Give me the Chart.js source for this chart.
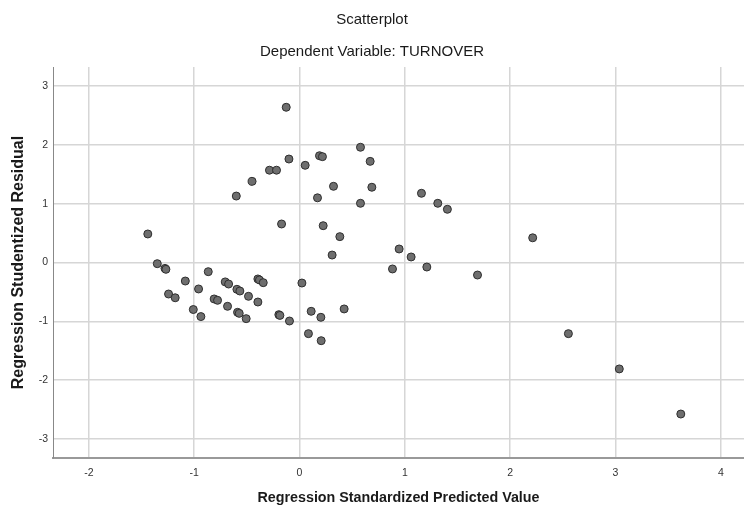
<!DOCTYPE html>
<html>
<head>
<meta charset="utf-8">
<script src="https://cdn.jsdelivr.net/npm/chart.js@4.4.1/dist/chart.umd.min.js"></script>
<style>
  html, body { margin: 0; padding: 0; background: #fff; }
  #wrap { width: 744px; height: 511px; }
</style>
</head>
<body>
<div id="wrap"><canvas id="residChart" width="744" height="511"></canvas></div>
<script>
// Regression Standardized Predicted Value (x) vs Studentized Residual (y)
const predicted = [
    -0.126, -0.10, -0.285, -0.218, -0.45, -0.60, -0.17, -1.44, -1.35, -1.277,
    -1.268, -1.243, -1.18, -1.084, -0.958, -1.008, -0.936, -0.866, -0.81, -0.778,
    -0.705, -0.673, -0.683, -0.594, -0.566, -0.588, -0.572, -0.506, -0.484, -0.395,
    -0.38, -0.344, -0.395, -0.196, -0.186, -0.095, 0.023, 0.111, 0.203, 0.085,
    0.206, 0.424, 0.383, 0.31, 0.946, 1.06, 1.209, 0.883, 1.69, 0.054,
    0.19, 0.218, 0.579, 0.671, 0.323, 0.687, 0.171, 0.579, 1.158, 1.313,
    1.404, 0.225, 2.214, 2.553, 3.036, 3.62
];
const residual = [
    2.64, 1.76, 1.57, 1.57, 1.38, 1.13, 0.655, 0.485, -0.02, -0.10,
    -0.116, -0.536, -0.60, -0.315, -0.45, -0.80, -0.92, -0.156, -0.62, -0.643,
    -0.33, -0.366, -0.745, -0.456, -0.485, -0.847, -0.865, -0.955, -0.575, -0.28,
    -0.297, -0.343, -0.672, -0.887, -0.90, -0.995, -0.349, -0.83, -0.932, -1.21,
    -1.33, -0.79, 0.44, 0.127, 0.23, 0.094, -0.077, -0.11, -0.213, 1.653,
    1.816, 1.80, 1.96, 1.72, 1.296, 1.28, 1.10, 1.007, 1.177, 1.007,
    0.905, 0.626, 0.42, -1.21, -1.81, -2.577
];

const points = predicted.map((x, i) => ({ x: x, y: residual[i] }));

const fontFamily = '"Liberation Sans", Arial, sans-serif';

new Chart(document.getElementById('residChart'), {
    type: 'scatter',
    data: {
        datasets: [{
            label: 'Residuals',
            data: points,
            backgroundColor: '#6e6e6e',
            borderColor: '#2e2e2e',
            borderWidth: 1,
            pointRadius: 4,
            pointHoverRadius: 4
        }]
    },
    options: {
        responsive: false,
        animation: false,
        layout: { padding: 0, autoPadding: false },
        plugins: {
            legend: { display: false },
            tooltip: { enabled: false },
            title: {
                display: true,
                text: 'Scatterplot',
                color: '#1a1a1a',
                font: { family: fontFamily, size: 15, weight: 'normal' },
                padding: { top: 11, bottom: 7 }
            },
            subtitle: {
                display: true,
                text: 'Dependent Variable: TURNOVER',
                color: '#1a1a1a',
                font: { family: fontFamily, size: 15, weight: 'normal' },
                padding: { top: 7, bottom: 6 }
            }
        },
        scales: {
            x: {
                type: 'linear',
                min: -2.34,
                max: 4.22,
                afterFit: (scale) => {
                    scale.height = 53;
                    scale.paddingLeft = 0;
                    scale.paddingRight = 0;
                },
                ticks: {
                    stepSize: 1,
                    includeBounds: false,
                    color: '#333',
                    padding: 9,
                    maxRotation: 0,
                    font: { family: fontFamily, size: 10.5 }
                },
                grid: { color: '#d6d6d6', lineWidth: 1.5, drawTicks: false },
                border: { display: true, color: '#999', width: 2 },
                title: {
                    display: true,
                    text: 'Regression Standardized Predicted Value',
                    color: '#1a1a1a',
                    font: { family: fontFamily, size: 14.3, weight: 'bold' },
                    padding: { top: 4, bottom: 4 }
                }
            },
            y: {
                type: 'linear',
                min: -3.325,
                max: 3.325,
                afterFit: (scale) => {
                    scale.width = 53;
                    scale.paddingTop = 0;
                    scale.paddingBottom = 0;
                },
                ticks: {
                    stepSize: 1,
                    includeBounds: false,
                    color: '#333',
                    padding: 5,
                    font: { family: fontFamily, size: 10.5 }
                },
                grid: { color: '#d6d6d6', lineWidth: 1.5, drawTicks: false },
                border: { display: true, color: '#888', width: 1 },
                title: {
                    display: true,
                    text: 'Regression Studentized Residual',
                    color: '#1a1a1a',
                    font: { family: fontFamily, size: 16, weight: 'bold' },
                    padding: { top: 9, bottom: 9 }
                }
            }
        }
    }
});
</script>
</body>
</html>
